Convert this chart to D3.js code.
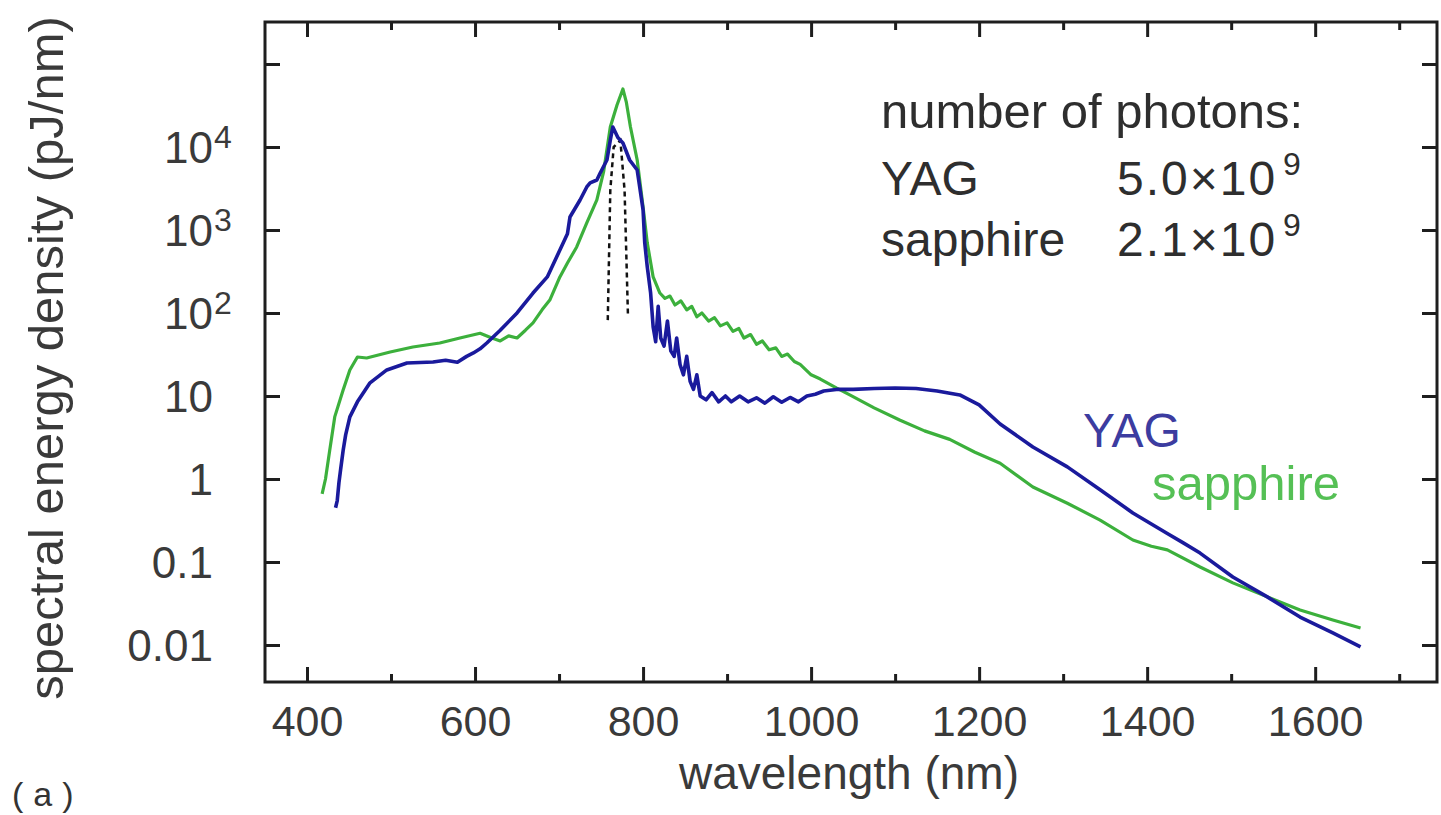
<!DOCTYPE html>
<html><head><meta charset="utf-8">
<script src="https://cdn.jsdelivr.net/npm/d3@7"></script>
<style>
body{margin:0;background:#fff}
svg{display:block}
text{font-family:"Liberation Sans",Arial,Helvetica,sans-serif}
</style>
</head><body>
<svg id="chart" width="1441" height="815"></svg>
<script>
// ---------- data ----------
const yagWavelength = [434,436,438,440,443,446,451,460,475,495,519,550,565,579,590,598,606,614,630,650,669,686,701,710,713,725,733,737,745,749,757,761,764,770,776,784,793,796,800,802,805,809,812,815,818,821,825,829,833,837,840,844,848,852,856,860,864,868,875,882,890,898,905,915,925,935,945,955,965,975,985,995,1005,1015,1030,1050,1075,1100,1125,1150,1177,1200,1225,1264,1305,1344,1383,1424,1443,1463,1502,1543,1582,1621,1654];
const yagDensity = [0.45,0.55,0.9,1.3,2.2,3.4,5.6,8.5,14.4,20.6,25,25.7,27,25.5,30,33,37,43.5,62,100,174,272,574,900,1435,2300,3300,3700,4000,4860,6970,12100,17400,13000,11200,6970,5280,3300,1740,700,360,174,68,45,120,50,40,80,35,30,50,24,18,30,15,12,18,10,9,11,8.5,10,8.5,10,8.5,9.5,8.2,9.8,8.4,9.6,8.5,10,10.5,11.5,12,12,12.3,12.5,12.3,11.5,10.3,7.8,4.6,2.43,1.40,0.74,0.39,0.22,0.17,0.128,0.066,0.038,0.0217,0.014,0.0095];

const sapphireWavelength = [418,422,427,433,443,451,460,471,499,526,558,582,606,620,630,640,650,660,669,680,689,701,710,721,733,745,753,761,769,776,780,785,793,800,805,812,820,826,832,838,845,852,858,864,870,878,885,892,900,907,914,920,928,935,942,950,958,965,972,980,987,1000,1011,1030,1046,1075,1106,1135,1165,1195,1225,1264,1305,1344,1383,1405,1424,1463,1502,1543,1582,1621,1654];
const sapphireDensity = [0.66,1.0,2.2,5.6,11.8,20.6,29.5,28.7,33.9,38.9,43.5,50,57,50,46,53,50,62,76,110,143,272,400,624,1215,2300,5000,17400,32000,50000,35000,17400,6970,1900,700,272,174,150,160,125,140,109,120,90,100,80,88,70,76,60,65,50,55,42,46,36,38,30,32,26,24,18,16,12.5,10.3,7.2,5.1,3.8,3,2.1,1.55,0.80,0.51,0.32,0.184,0.155,0.14,0.087,0.056,0.038,0.0264,0.02,0.016];

const pumpWavelength = [758,761,765,773,778,782];
const pumpDensity = [82,3000,10000,12000,3000,95];

const xMajorTicks = [400,600,800,1000,1200,1400,1600];
const xMinorTicks = [500,700,900,1100,1300,1500,1700];
const yTicks = [0.01,0.1,1,10,100,1000,10000,100000];
const yTickBase = ["0.01","0.1","1","10","10","10","10",""];
const yTickExp  = ["","","","","2","3","4",""];

const xTitle = "wavelength (nm)";
const yTitle = "spectral energy density (pJ/nm)";
const noteTitle = "number of photons:";
const noteNames = ["YAG","sapphire"];
const noteMantissa = ["5.0\u00d710","2.1\u00d710"];
const noteExp = ["9","9"];
const seriesLabels = ["YAG","sapphire"];
const panelLabel = "(a)";

// ---------- layout ----------
const svg = d3.select("#chart");
const L = 265, R = 1437, T = 22, B = 682;
const x = d3.scaleLinear().domain([350, 1745]).range([L, R]);
const y = d3.scaleLog().domain([Math.pow(10,-2.446), Math.pow(10,5.506)]).range([B, T]);

const blue = "#1a1a9c", green = "#3cb03c", axisCol = "#1e1e1e", textCol = "#3a3a3a";

// curves
const line = d3.line().x(d => x(d[0])).y(d => y(d[1]));
const pump = pumpWavelength.map((w,i)=>[w,pumpDensity[i]]);
const yag = yagWavelength.map((w,i)=>[w,yagDensity[i]]);
const sap = sapphireWavelength.map((w,i)=>[w,sapphireDensity[i]]);

svg.append("path").datum(pump).attr("d", line)
  .attr("fill","none").attr("stroke","#111").attr("stroke-width",2.5).attr("stroke-dasharray","5,4");
svg.append("path").datum(sap).attr("d", line)
  .attr("fill","none").attr("stroke",green).attr("stroke-width",3.2).attr("stroke-linejoin","round");
svg.append("path").datum(yag).attr("d", line)
  .attr("fill","none").attr("stroke",blue).attr("stroke-width",3.6).attr("stroke-linejoin","round");

// axes (ticks inward)
function styleAxis(g){
  g.select(".domain").remove();
  g.selectAll(".tick line").attr("stroke",axisCol).attr("stroke-width",3);
  g.selectAll(".tick text").attr("fill",textCol).attr("font-size",43)
    .style("font-family",'"Liberation Sans",Arial,sans-serif');
}
svg.append("g").attr("transform",`translate(0,${B})`)
  .call(d3.axisBottom(x).tickValues(xMajorTicks).tickSize(-15).tickPadding(23).tickFormat(d3.format("d")))
  .call(styleAxis);
svg.append("g").attr("transform",`translate(0,${B})`)
  .call(d3.axisBottom(x).tickValues(xMinorTicks).tickSize(-8).tickFormat(""))
  .call(styleAxis);
svg.append("g").attr("transform",`translate(0,${T})`)
  .call(d3.axisTop(x).tickValues(xMajorTicks).tickSize(-15).tickFormat(""))
  .call(styleAxis);
svg.append("g").attr("transform",`translate(0,${T})`)
  .call(d3.axisTop(x).tickValues(xMinorTicks).tickSize(-8).tickFormat(""))
  .call(styleAxis);
svg.append("g").attr("transform",`translate(${L},0)`)
  .call(d3.axisLeft(y).tickValues(yTicks).tickSize(-15).tickFormat(""))
  .call(styleAxis);
svg.append("g").attr("transform",`translate(${R},0)`)
  .call(d3.axisRight(y).tickValues(yTicks).tickSize(-15).tickFormat(""))
  .call(styleAxis);

// frame
svg.append("rect").attr("x",L).attr("y",T).attr("width",R-L).attr("height",B-T)
  .attr("fill","none").attr("stroke",axisCol).attr("stroke-width",3);

// y tick labels
const yl = svg.append("g").attr("fill",textCol);
yTicks.forEach((v,i)=>{
  if(!yTickBase[i]) return;
  const ty = y(v);
  yl.append("text").attr("x",213).attr("y",ty+16).attr("text-anchor","end")
    .attr("font-size",44).text(yTickBase[i]);
  if(yTickExp[i]) yl.append("text").attr("x",214).attr("y",ty+1)
    .attr("font-size",32).text(yTickExp[i]);
});

// axis titles
svg.append("text").attr("x",849).attr("y",789).attr("text-anchor","middle")
  .attr("font-size",46).attr("fill",textCol).text(xTitle);
svg.append("text").attr("transform","translate(63,358) rotate(-90)").attr("text-anchor","middle")
  .attr("font-size",49).attr("fill",textCol).text(yTitle);

// annotation
const ann = svg.append("g").attr("fill","#2e2e2e");
ann.append("text").attr("x",881).attr("y",128).attr("font-size",49).text(noteTitle);
const rowY = [195,256];
noteNames.forEach((n,i)=>{
  ann.append("text").attr("x",881).attr("y",rowY[i]).attr("font-size",48).text(n);
  ann.append("text").attr("x",1117).attr("y",rowY[i]).attr("font-size",48)
    .attr("letter-spacing",2).text(noteMantissa[i]);
  ann.append("text").attr("x",1283).attr("y",rowY[i]-20).attr("font-size",32).text(noteExp[i]);
});

// series labels
svg.append("text").attr("x",1083).attr("y",447).attr("font-size",48).attr("fill","#3c3ca0").text(seriesLabels[0]);
svg.append("text").attr("x",1152).attr("y",500).attr("font-size",49).attr("fill","#55c055").text(seriesLabels[1]);

// panel label (at the bottom-left corner)
svg.append("text").attr("x",12).attr("y",806).attr("font-size",34).attr("letter-spacing",10)
  .attr("fill","#333").text(panelLabel);
</script>
</body></html>
